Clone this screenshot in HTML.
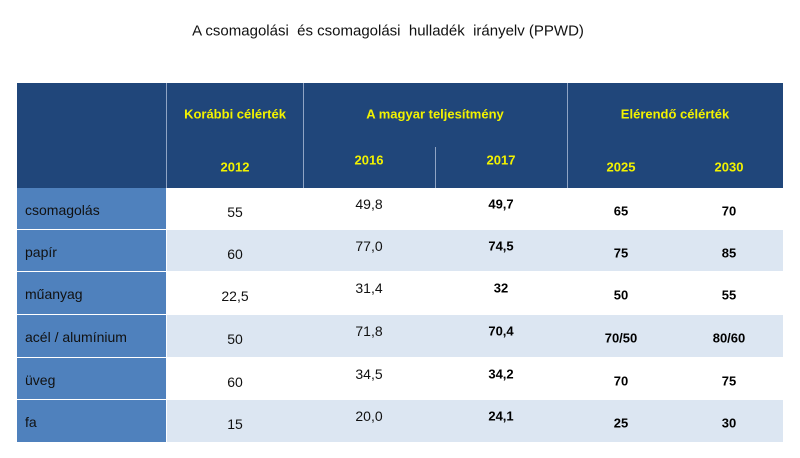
<!DOCTYPE html>
<html><head><meta charset="utf-8"><style>
body{margin:0;width:800px;height:458px;background:#fff;font-family:"Liberation Sans",sans-serif;position:relative;overflow:hidden}
.a{position:absolute;box-sizing:border-box}
.t{position:absolute;white-space:nowrap;transform:translate(-50%,-50%)}
.hd{color:#f2f200;font-weight:bold;font-size:13px}
.v{font-size:14px;color:#111}
.b{font-weight:bold;font-size:13px}
.lab{position:absolute;font-size:14px;color:#111;transform:translateY(-50%)}
</style></head><body>
<div class="t" style="left:388px;top:31px;font-size:15px;color:#111">A csomagolási&nbsp; és csomagolási&nbsp; hulladék&nbsp; irányelv (PPWD)</div>
<div class="a" style="left:17px;top:83px;width:766px;height:105px;background:#20467a"></div>
<div class="a" style="left:166px;top:83px;width:1px;height:105px;background:#8fa4c4"></div>
<div class="a" style="left:303px;top:83px;width:1px;height:105px;background:#8fa4c4"></div>
<div class="a" style="left:567px;top:83px;width:1px;height:105px;background:#8fa4c4"></div>
<div class="a" style="left:435px;top:147px;width:1px;height:41px;background:#8fa4c4"></div>
<div class="t hd" style="left:235px;top:114px">Korábbi célérték</div>
<div class="t hd" style="left:435px;top:114px">A magyar teljesítmény</div>
<div class="t hd" style="left:675px;top:114px">Elérendő célérték</div>
<div class="t hd" style="left:235px;top:167px">2012</div>
<div class="t hd" style="left:369px;top:160px">2016</div>
<div class="t hd" style="left:501px;top:160px">2017</div>
<div class="t hd" style="left:621px;top:167px">2025</div>
<div class="t hd" style="left:729px;top:167px">2030</div>
<div id="rows"></div>
<script>
const labels=["csomagolás","papír","műanyag","acél / alumínium","üveg","fa"];
const v2012=["55","60","22,5","50","60","15"];
const v2016=["49,8","77,0","31,4","71,8","34,5","20,0"];
const v2017=["49,7","74,5","32","70,4","34,2","24,1"];
const v2025=["65","75","50","70/50","70","25"];
const v2030=["70","85","55","80/60","75","30"];
const tops=[188,230,272,315,358,400,443];
const root=document.getElementById('rows');
function el(cls,css,txt){const d=document.createElement('div');d.className=cls;d.style.cssText=css;if(txt!==undefined)d.textContent=txt;root.appendChild(d);return d;}
labels.forEach((lab,i)=>{
  const y=tops[i],h=tops[i+1]-y-1,cy=y+h/2;
  const bg=i%2?'#dce6f2':'#ffffff';
  const r=el('a','left:167px;top:'+y+'px;width:616px;height:'+h+'px;background:'+bg);
  
  
  const c=el('a','left:17px;top:'+y+'px;width:149px;height:'+h+'px;background:#4f81bd');
  
  
  const l=el('lab','left:25px;top:'+(cy+1)+'px',lab);
  
  
  const a=el('t v','left:235px;top:'+(cy+3)+'px',v2012[i]);
  
  
  const b=el('t v','left:369px;top:'+(cy-5)+'px',v2016[i]);
  
  
  const d=el('t b','left:501px;top:'+(cy-5)+'px',v2017[i]);
  
  
  const e=el('t b','left:621px;top:'+(cy+2)+'px',v2025[i]);
  
  
  const f=el('t b','left:729px;top:'+(cy+2)+'px',v2030[i]);
  
  
});
</script>
</body></html>
